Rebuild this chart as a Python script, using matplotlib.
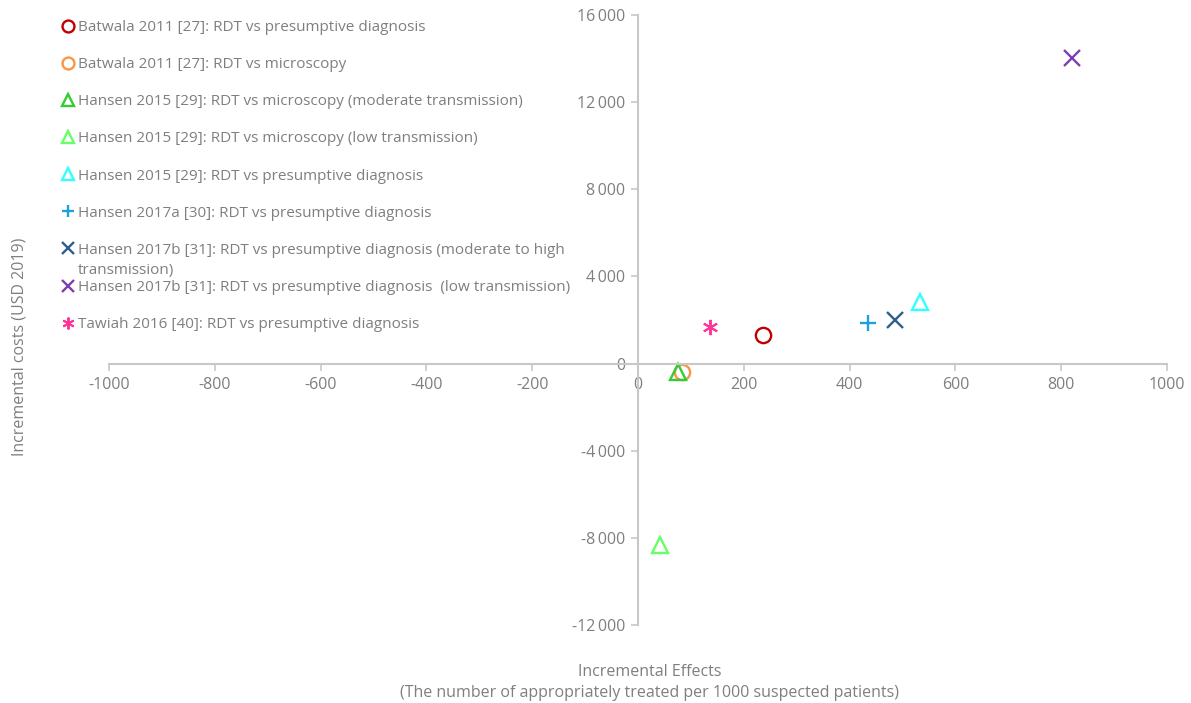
import matplotlib
matplotlib.use("Agg")
import matplotlib.pyplot as plt
from matplotlib.ticker import FuncFormatter

plt.rcParams['font.family'] = ['Open Sans', 'DejaVu Sans']
plt.rcParams['axes.unicode_minus'] = False

labels = [
    "Batwala 2011 [27]: RDT vs presumptive diagnosis",
    "Batwala 2011 [27]: RDT vs microscopy",
    "Hansen 2015 [29]: RDT vs microscopy (moderate transmission)",
    "Hansen 2015 [29]: RDT vs microscopy (low transmission)",
    "Hansen 2015 [29]: RDT vs presumptive diagnosis",
    "Hansen 2017a [30]: RDT vs presumptive diagnosis",
    "Hansen 2017b [31]: RDT vs presumptive diagnosis (moderate to high",
    "Hansen 2017b [31]: RDT vs presumptive diagnosis  (low transmission)",
    "Tawiah 2016 [40]: RDT vs presumptive diagnosis",
]
label_continuation = {6: "transmission)"}
effects = [236, 83, 75, 41, 534, 434, 485, 821, 136]
costs = [1330, -370, -370, -8340, 2840, 1880, 2020, 14020, 1700]
colors = ['#C00000', '#F79646', '#33CC33', '#66FF66', '#33FFFF',
          '#1BA1E2', '#2E5E8E', '#7F3FAF', '#FF3399']
markers = ['o', 'o', '^', '^', '^', '+', 'x', 'x', (6, 2, 0)]

x_ticks = list(range(-1000, 1001, 200))
y_ticks = list(range(-12000, 16001, 4000))

fig = plt.figure(figsize=(11.91, 7.03), dpi=100)
ax = fig.add_axes([109/1191, 1-625/703, (1167-109)/1191, (625-15)/703])

handles = []
for e, c, col, m, lab in zip(effects, costs, colors, markers, labels):
    filled = m in ('+', 'x') or isinstance(m, tuple)
    h, = ax.plot([e], [c], linestyle='none', marker=m, markersize=11,
                 markerfacecolor='none' if not filled else col,
                 markeredgecolor=col,
                 markeredgewidth=1.4 if isinstance(m, tuple) else 1.7,
                 label=lab)
    handles.append(h)

ax.set_xlim(-1000, 1000)
ax.set_ylim(-12000, 16000)
ax.set_xticks(x_ticks)
ax.set_yticks(y_ticks)
ax.yaxis.set_major_formatter(FuncFormatter(
    lambda v, p: (f"{int(v):,}".replace(",", "\u2009")) if v != 0 else "0"))

for s in ['top', 'right']:
    ax.spines[s].set_visible(False)
ax.spines['left'].set_position(('data', 0))
ax.spines['bottom'].set_position(('data', 0))
for s in ['left', 'bottom']:
    ax.spines[s].set_color('#C8C8C8')
    ax.spines[s].set_linewidth(1.5)
ax.tick_params(axis='both', colors='#C8C8C8', labelcolor='#7F7F7F',
               labelsize=11.5, length=5, width=1.2, direction='out')
ax.tick_params(axis='x', pad=5)
ax.tick_params(axis='y', pad=4)

leg = ax.legend(handles=handles, loc='upper left', bbox_to_anchor=(-0.054, 1.002),
                frameon=False, fontsize=11, labelspacing=1.45,
                handletextpad=0.0, handlelength=1.3, markerscale=0.78,
                borderaxespad=0)
for t in leg.get_texts():
    t.set_color('#7F7F7F')

fig.text(650/1191, 1-672/703, "Incremental Effects", ha='center', va='center',
         fontsize=11.5, color='#7F7F7F')
fig.text(650/1191, 1-693/703,
         "(The number of appropriately treated per 1000 suspected patients)",
         ha='center', va='center', fontsize=11.5, color='#7F7F7F')
fig.text(20/1191, 1-347/703, "Incremental costs (USD 2019)", rotation=90,
         ha='center', va='center', fontsize=11.5, color='#7F7F7F')

fig.canvas.draw()
renderer = fig.canvas.get_renderer()
for idx, extra in label_continuation.items():
    bb = leg.get_texts()[idx].get_window_extent(renderer)
    fig.text(bb.x0 / fig.bbox.width, (bb.y0 - 5) / fig.bbox.height, extra,
             ha='left', va='top', fontsize=11, color='#7F7F7F')

fig.savefig("out.png", dpi=100)
